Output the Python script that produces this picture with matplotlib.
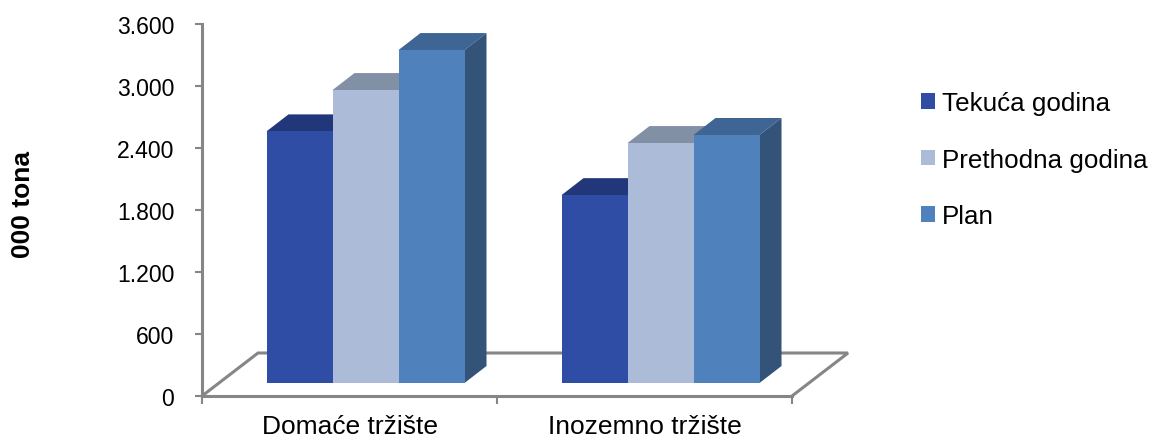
import matplotlib
matplotlib.use("Agg")
import matplotlib.pyplot as plt
from matplotlib.patches import Patch

plt.rcParams['font.family'] = ['Liberation Sans', 'DejaVu Sans']

# Values
categories = ['Domaće tržište', 'Inozemno tržište']
series_names = ['Tekuća godina', 'Prethodna godina', 'Plan']
tekuca = [2435, 1818]
prethodna = [2835, 2322]
plan = [3222, 2400]
y_ticks = [0, 600, 1200, 1800, 2400, 3000, 3600]
y_labels = ['0', '600', '1.200', '1.800', '2.400', '3.000', '3.600']

front_colors = ['#304DA6', '#ACBBD8', '#4F81BD']
top_colors = ['#22377A', '#8290A6', '#3E6594']
side_colors = ['#22377A', '#7A879F', '#335378']
grey = '#868686'

W, H = 1153, 439
fig = plt.figure(figsize=(W / 100, H / 100), dpi=100)
ax = fig.add_axes([202 / W, 1 - 397 / H, 590 / W, 372 / H])
ax.set_xlim(0, 2)
ax.set_ylim(0, 3600)

# pixel sizes turned into data units
px_x = 2 / 590
px_y = 3600 / 372
floor_dx, floor_dy = 56 * px_x, 43 * px_y
depth_dx, depth_dy = 22 * px_x, 17 * px_y
shift_x, shift_y = 16 * px_x, 13 * px_y
bar_w = 66 * px_x

# floor
ax.fill([0, 2, 2 + floor_dx, floor_dx], [0, 0, floor_dy, floor_dy],
        facecolor='white', edgecolor='none', clip_on=False, zorder=1)
ax.plot([0, floor_dx, 2 + floor_dx, 2], [0, floor_dy, floor_dy, 0],
        color=grey, lw=2.2, clip_on=False, zorder=2, solid_joinstyle='miter')

# bars, left to right so each front hides the side of the one before
z = 3
for c in range(len(categories)):
    for s, vals in enumerate([tekuca, prethodna, plan]):
        x0 = c + 0.5 - 1.5 * bar_w + s * bar_w + shift_x
        x1 = x0 + bar_w
        top = vals[c] + shift_y
        ax.fill([x0, x1, x1 + depth_dx, x0 + depth_dx],
                [top, top, top + depth_dy, top + depth_dy],
                color=top_colors[s], lw=0, clip_on=False, zorder=z)
        ax.fill([x1, x1 + depth_dx, x1 + depth_dx, x1],
                [shift_y, shift_y + depth_dy, top + depth_dy, top],
                color=side_colors[s], lw=0, clip_on=False, zorder=z)
        ax.bar(x0, vals[c], width=bar_w, bottom=shift_y, align='edge',
               color=front_colors[s], lw=0, zorder=z + 1)
        z += 2

for side in ['top', 'right']:
    ax.spines[side].set_visible(False)
for side in ['left', 'bottom']:
    ax.spines[side].set_color(grey)
    ax.spines[side].set_linewidth(2.2)
    ax.spines[side].set_zorder(20)

ax.set_yticks(y_ticks)
ax.set_yticklabels(y_labels, fontsize=16.6)
ax.tick_params(axis='y', length=5, width=1.5, color=grey, pad=15)
ax.set_xticks([0, 1, 2])
ax.set_xticklabels([])
ax.tick_params(axis='x', which='major', length=6, width=1.5, color=grey)
ax.set_xticks([0.5, 1.5], minor=True)
ax.set_xticklabels(categories, minor=True, fontsize=19)
ax.tick_params(axis='x', which='minor', length=0, pad=13)

fig.text(23 / W, 1 - 204 / H, '000 tona', rotation=90, fontsize=19,
         fontweight='bold', ha='center', va='center')

handles = [Patch(facecolor=col, edgecolor='none') for col in front_colors]
fig.legend(handles, series_names, loc='upper left',
           bbox_to_anchor=(921 / W, 1 - 92 / H), borderaxespad=0, borderpad=0,
           frameon=False, fontsize=18.7, handlelength=0.55, handleheight=0.55,
           handletextpad=0.25, labelspacing=1.26)

fig.savefig('out.png', dpi=100)
